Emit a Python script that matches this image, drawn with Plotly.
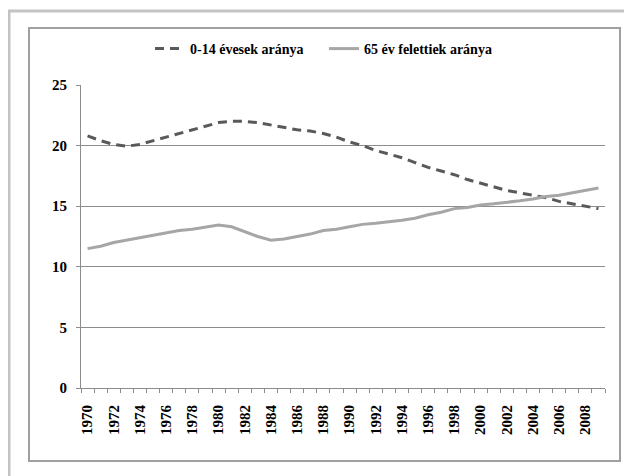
import plotly.graph_objects as go

years = list(range(1970, 2010))
share_0_14 = [20.8, 20.4, 20.1, 19.95, 20.1, 20.4, 20.7, 21.0, 21.3, 21.6,
              21.9, 22.0, 22.0, 21.9, 21.7, 21.5, 21.3, 21.2, 21.0, 20.7,
              20.3, 20.0, 19.6, 19.3, 19.0, 18.6, 18.2, 17.9, 17.6, 17.2,
              16.9, 16.6, 16.3, 16.1, 15.9, 15.7, 15.4, 15.2, 15.0, 14.8]
share_65_plus = [11.5, 11.7, 12.0, 12.2, 12.4, 12.6, 12.8, 13.0, 13.1, 13.3,
                 13.45, 13.3, 12.9, 12.5, 12.2, 12.3, 12.5, 12.7, 13.0, 13.1,
                 13.3, 13.5, 13.6, 13.7, 13.85, 14.0, 14.3, 14.5, 14.8, 14.9,
                 15.1, 15.2, 15.3, 15.45, 15.6, 15.8, 15.9, 16.1, 16.3, 16.5]
name_0_14 = "0-14 évesek aránya"
name_65 = "65 év felettiek aránya"
x_tick_labels = [str(y) for y in years[::2]]
y_ticks = [0, 5, 10, 15, 20, 25]

# page has an 8px body margin; work in screenshot coordinates and shift
OFF = 8
W, H = 632 - OFF, 476 - OFF
L, R, T, B = 81 - OFF, 605 - OFF, 85 - OFF, 388 - OFF
pw, ph = R - L, B - T

def px(x):
    return (x - OFF - L) / pw

def py(y):
    return (B - (y - OFF)) / ph

fam = "Liberation Serif"
font = dict(family=fam, size=14, color="#000000", weight="bold")
tick_font = dict(family=fam, size=15, color="#000000", weight="bold")

fig = go.Figure()
fig.add_trace(go.Scatter(x=years, y=share_0_14, mode="lines", name=name_0_14,
                         line=dict(color="#595959", width=3, dash="9px,6px")))
fig.add_trace(go.Scatter(x=years, y=share_65_plus, mode="lines", name=name_65,
                         line=dict(color="#a6a6a6", width=3)))

shapes = [
    dict(type="rect", xref="paper", yref="paper", x0=px(9), x1=px(650), y0=py(500), y1=py(11),
         line=dict(color="#c3c3c3", width=3), fillcolor="rgba(0,0,0,0)", layer="below"),
    dict(type="rect", xref="paper", yref="paper", x0=px(29), x1=px(620), y0=py(461), y1=py(28),
         line=dict(color="#a0a0a0", width=2), fillcolor="rgba(0,0,0,0)", layer="below"),
]

fig.update_layout(
    width=W, height=H,
    margin=dict(l=L, r=W - R, t=T, b=H - B),
    paper_bgcolor="white", plot_bgcolor="white",
    font=font,
    shapes=shapes,
    showlegend=True,
    legend=dict(orientation="h", x=px(150), xanchor="left", y=py(49), yanchor="middle",
                font=font, itemwidth=30, entrywidth=129, entrywidthmode="pixels",
                bgcolor="rgba(0,0,0,0)"),
    xaxis=dict(range=[1969.5, 2009.5], tickmode="array", tickvals=years[::2],
               ticktext=x_tick_labels, tickangle=-90, ticks="", showgrid=False,
               showline=True, linecolor="#8c8c8c", linewidth=1, zeroline=False,
               tickfont=tick_font, ticklabelstandoff=10,
               minor=dict(tickmode="array", tickvals=[y - 0.5 for y in years] + [2009.5],
                          ticks="outside", ticklen=4, tickcolor="#8c8c8c", showgrid=False)),
    yaxis=dict(range=[0, 25], tickmode="array", tickvals=y_ticks, showgrid=True,
               gridcolor="#8c8c8c", gridwidth=1, zeroline=False, showline=True,
               linecolor="#8c8c8c", linewidth=1, ticks="outside", ticklen=4,
               tickcolor="#8c8c8c", tickfont=tick_font, ticklabelstandoff=6),
)

fig.write_html("out.html")
